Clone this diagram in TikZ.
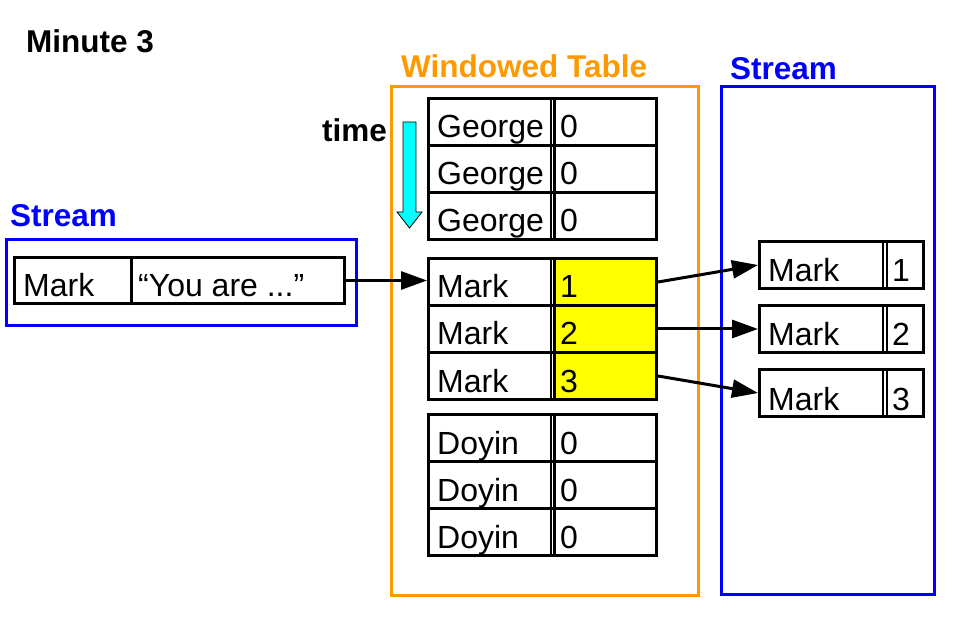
\documentclass[tikz,border=0pt]{standalone}
\usepackage{fontspec}
\setmainfont{Liberation Sans}
\usetikzlibrary{arrows.meta}
\definecolor{orng}{HTML}{FF9900}
\definecolor{blu}{HTML}{0000FF}
\definecolor{yel}{HTML}{FFFF00}
\definecolor{cyn}{HTML}{00FFFF}
\tikzset{
  cellbox/.style={draw=black, line width=3pt, inner sep=0pt, minimum height=47pt, anchor=north west},
  celltxt/.style={font=\fontsize{32}{32}\selectfont, inner sep=0pt, anchor=base west},
  lbl/.style={font=\fontsize{31.5}{31.5}\selectfont\bfseries, inner sep=0pt, anchor=base west},
  grpbox/.style={line width=3pt, inner sep=0pt, anchor=north west},
  conn/.style={line width=3pt, -{Triangle[length=26pt,width=18pt]}},
  dbl/.style={line width=2.5pt}
}
\newcommand{\trow}[5]{%
  \node[cellbox, minimum width=126pt] (#1L) at (427,#2) {};
  \node[cellbox, minimum width=102pt, fill=#5] (#1R) at (553,#2) {};
  \draw[dbl] ([xshift=-2.2pt]#1R.north west) -- ([xshift=-2.2pt]#1R.south west);
  \draw[dbl] ([xshift=1.8pt]#1R.north west) -- ([xshift=1.8pt]#1R.south west);
  \node[celltxt] at ([xshift=10pt,yshift=9pt]#1L.south west) {#3};
  \node[celltxt] at ([xshift=7pt,yshift=9pt]#1R.south west) {#4};
}
\newcommand{\srow}[3]{%
  \node[cellbox, minimum width=164pt] (#1) at (758,#2) {};
  \draw[dbl] (883,#2) -- (883,#2+47);
  \draw[dbl] (887,#2) -- (887,#2+47);
  \node[celltxt] at ([xshift=10pt,yshift=8pt]#1.south west) {Mark};
  \node[celltxt] at ([xshift=134pt,yshift=8pt]#1.south west) {#3};
}
\begin{document}
\begin{tikzpicture}[x=1pt,y=-1pt]
\useasboundingbox (0,0) rectangle (959,620);
% titles
\node[lbl] (title) at (26,53) {Minute 3};
\node[lbl, text=blu] (lstreamlbl) at (10,227) {Stream};
\node[lbl, text=orng] (wtlbl) at (401,78) {Windowed Table};
\node[lbl, text=blu] (rstreamlbl) at (730,80) {Stream};
\node[lbl] (timelbl) at (322,142) {time};
% big containers
\node[grpbox, draw=orng, minimum width=307pt, minimum height=509pt] (wt) at (390,85) {};
\node[grpbox, draw=blu, minimum width=213pt, minimum height=508pt] (rs) at (720,85) {};
\node[grpbox, draw=blu, minimum width=350pt, minimum height=86pt] (ls) at (5,238) {};
% left record
\node[cellbox, minimum width=117pt, minimum height=46pt] (recL) at (13,256) {};
\node[cellbox, minimum width=213pt, minimum height=46pt] (recR) at (130,256) {};
\node[celltxt] at ([xshift=10pt,yshift=8pt]recL.south west) {Mark};
\node[celltxt] at ([xshift=8pt,yshift=8pt]recR.south west) {“You are ...”};
% time arrow
\draw[fill=cyn, draw=black, line width=0.8pt]
  (403,122) -- (416,122) -- (416,212) -- (422,212) -- (409.5,228) -- (397,212) -- (403,212) -- cycle;
% table rows
\trow{g1}{97}{George}{0}{white}
\trow{g2}{144}{George}{0}{white}
\trow{g3}{191}{George}{0}{white}
\trow{m1}{257}{Mark}{1}{yel}
\trow{m2}{304}{Mark}{2}{yel}
\trow{m3}{351}{Mark}{3}{yel}
\trow{d1}{413}{Doyin}{0}{white}
\trow{d2}{460}{Doyin}{0}{white}
\trow{d3}{507}{Doyin}{0}{white}
% output stream records
\srow{r1}{240}{1}
\srow{r2}{304}{2}
\srow{r3}{368}{3}
% connectors
\draw[conn] (recR.east) -- (recR.east -| m1L.west);
\draw[conn] (m1R.east) -- (r1.west);
\draw[conn] (m2R.east) -- (r2.west);
\draw[conn] (m3R.east) -- (r3.west);
\end{tikzpicture}
\end{document}
